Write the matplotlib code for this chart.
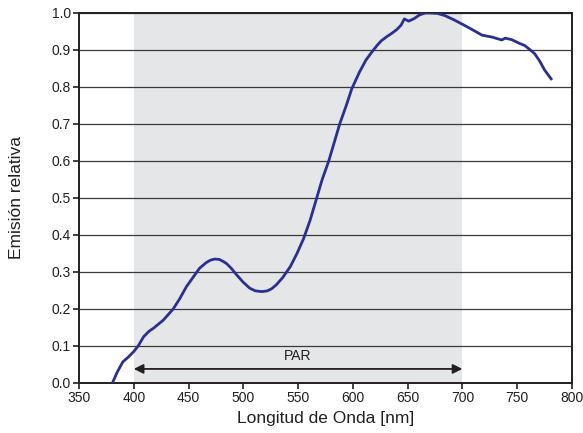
import matplotlib.pyplot as plt

plt.rcParams['font.family'] = ['Liberation Sans', 'DejaVu Sans']

# spectrum
wavelength = [380.5, 385, 390, 395, 400, 404, 409, 414, 418, 427, 436, 442,
              448, 454, 460, 466, 470, 474, 478, 482, 485, 489, 494, 500, 506,
              511, 517, 522, 526, 530, 536, 543, 549, 555, 561, 567, 572, 578,
              583, 588, 594, 599, 606, 612, 617, 622, 626, 631, 636, 640, 644,
              647, 651, 656, 661, 666, 671, 677, 684, 692, 701, 709, 718, 727,
              736, 739, 745, 752, 757, 762, 766, 771, 775, 778, 781]
emission = [0.00, 0.03, 0.057, 0.07, 0.085, 0.10, 0.125, 0.14, 0.148, 0.17,
            0.20, 0.228, 0.26, 0.285, 0.31, 0.325, 0.332, 0.335, 0.334, 0.328,
            0.322, 0.31, 0.292, 0.272, 0.256, 0.249, 0.247, 0.249, 0.255,
            0.265, 0.285, 0.315, 0.35, 0.39, 0.44, 0.50, 0.55, 0.60, 0.65,
            0.70, 0.75, 0.795, 0.84, 0.873, 0.893, 0.912, 0.925, 0.936, 0.946,
            0.955, 0.967, 0.984, 0.978, 0.985, 0.995, 1.0, 1.0, 0.999, 0.993,
            0.982, 0.968, 0.955, 0.94, 0.935, 0.927, 0.932, 0.928, 0.918,
            0.912, 0.90, 0.89, 0.868, 0.846, 0.834, 0.822]

par_start, par_end = 400, 700
xticks = [350, 400, 450, 500, 550, 600, 650, 700, 750, 800]
yticks = [0.0, 0.1, 0.2, 0.3, 0.4, 0.5, 0.6, 0.7, 0.8, 0.9, 1.0]

fig = plt.figure(figsize=(5.83, 4.33), dpi=100)
ax = fig.add_axes([0.1355, 0.1155, 0.8455, 0.8545])

ax.axvspan(par_start, par_end, color='#e5e6e8', lw=0, zorder=0)
for y in yticks[1:]:
    ax.axhline(y, color='#3a3a3a', lw=0.9, zorder=1)

ax.plot(wavelength, emission, color='#2b2f8f', lw=2.0, zorder=3,
        solid_joinstyle='round')

ax.annotate('', xy=(par_start, 0.038), xytext=(par_end, 0.038),
            arrowprops=dict(arrowstyle='<|-|>', color='#231f20', lw=1.3,
                            mutation_scale=14, shrinkA=0, shrinkB=0),
            zorder=4)
ax.text((par_start + par_end) / 2, 0.055, 'PAR', ha='center', va='bottom',
        fontsize=10, color='#231f20')

ax.set_xlim(350, 800)
ax.set_ylim(0, 1.0)
ax.set_xticks(xticks)
ax.set_yticks(yticks)
ax.set_yticklabels([f'{v:.1f}' for v in yticks])
ax.tick_params(direction='out', length=4, width=1.2, labelsize=10,
               colors='#231f20', pad=2)
for s in ax.spines.values():
    s.set_linewidth(1.4)
    s.set_color('#231f20')

ax.set_xlabel('Longitud de Onda [nm]', fontsize=12.5, color='#231f20', labelpad=4)
ax.set_ylabel('Emisión relativa', fontsize=12.5, color='#231f20', labelpad=20)

fig.savefig('out.png', dpi=100)
